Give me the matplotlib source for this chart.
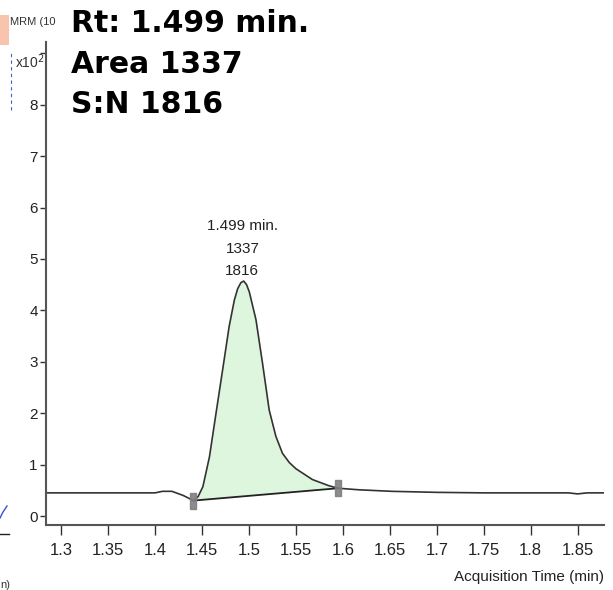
import numpy as np
import matplotlib.pyplot as plt
from matplotlib.patches import Rectangle

# chromatogram trace (counts x10^2 vs acquisition time in min)
t = [1.284, 1.30, 1.35, 1.40, 1.408, 1.418, 1.43, 1.441, 1.446, 1.451, 1.458, 1.465,
     1.472, 1.479, 1.4845, 1.488, 1.4915, 1.4945, 1.4975, 1.5004, 1.5075, 1.5145,
     1.5216, 1.5287, 1.5357, 1.543, 1.55, 1.5675, 1.585, 1.595, 1.617, 1.652,
     1.70, 1.75, 1.80, 1.84, 1.85, 1.86, 1.878]
y = [0.45, 0.45, 0.45, 0.45, 0.48, 0.48, 0.40, 0.30, 0.38, 0.57, 1.15, 2.0,
     2.84, 3.69, 4.2, 4.42, 4.54, 4.57, 4.50, 4.36, 3.82, 2.97,
     2.06, 1.55, 1.22, 1.04, 0.92, 0.71, 0.59, 0.54, 0.51, 0.48,
     0.46, 0.45, 0.45, 0.45, 0.43, 0.45, 0.45]

peak_start = (1.441, 0.30)
peak_end = (1.595, 0.54)
rt = 1.499
area = 1337
sn = 1816

x_ticks = [1.3, 1.35, 1.4, 1.45, 1.5, 1.55, 1.6, 1.65, 1.7, 1.75, 1.8, 1.85]
x_labels = ['1.3', '1.35', '1.4', '1.45', '1.5', '1.55', '1.6', '1.65', '1.7', '1.75', '1.8', '1.85']
y_ticks = [0, 1, 2, 3, 4, 5, 6, 7, 8]

narrow = 'Liberation Sans'

fig = plt.figure(figsize=(6.13, 5.9), dpi=100)
ax = fig.add_axes([46/613, 1-525/590, (604-46)/613, (525-42)/590])

t = np.array(t)
y = np.array(y)

# integrated area between trace and baseline
m = (t >= peak_start[0]) & (t <= peak_end[0])
tx = t[m]
base = np.interp(tx, [peak_start[0], peak_end[0]], [peak_start[1], peak_end[1]])
ax.fill_between(tx, base, y[m], color='#ddf6dd', lw=0)
ax.plot([peak_start[0], peak_end[0]], [peak_start[1], peak_end[1]], color='#222', lw=1.3)
ax.plot(t, y, color='#333', lw=1.2)

# peak start/end markers (tall grey ticks)
bar = [(-0.45, -1), (0.45, -1), (0.45, 1), (-0.45, 1), (-0.45, -1)]
for px, py in (peak_start, peak_end):
    ax.plot(px, py, marker=bar, ms=11, color='#808080', mec='#808080', alpha=0.9)

ax.text(rt - 0.006, 4.62, f'{rt} min.\n{area}\n{sn}', ha='center', va='bottom',
        fontsize=11, family=narrow, linespacing=1.8, color='#222')

ax.set_xlim(1.284, 1.878)
ax.set_ylim(-0.175, 9.22)
ax.set_xticks(x_ticks)
ax.set_xticklabels(x_labels, family=narrow, fontsize=12, color='#222')
ax.set_yticks(y_ticks + [9])
ax.set_yticklabels([str(v) for v in y_ticks] + [''], family=narrow, fontsize=11, color='#222')
ax.tick_params(axis='x', length=7, width=1, color='#333', pad=6)
ax.tick_params(axis='y', length=4, width=1, color='#333', pad=2)
for s in ('top', 'right'):
    ax.spines[s].set_visible(False)
for s in ('left', 'bottom'):
    ax.spines[s].set_color('#555')
    ax.spines[s].set_linewidth(1.5)

fig.text(604/613, 1-577/590, 'Acquisition Time (min)', ha='right', va='center',
         fontsize=11, family=narrow, color='#222')

# overlay summary
for i, s in enumerate([f'Rt: {rt} min.', f'Area {area}', f'S:N {sn}']):
    fig.text(71/613, 1-(32+40.7*i)/590, s, ha='left', va='baseline', fontsize=21.5,
             fontweight='bold', family='DejaVu Sans')

# cropped neighbours at the left edge
fig.patches.append(Rectangle((0, 1-45/590), 9/613, 30/590, transform=fig.transFigure,
                             color='#f8c4ae', lw=0))
fig.text(10/613, 1-22/590, 'MRM (10', fontsize=8, family=narrow, va='center', color='#333')
fig.text(15/613, 1-62/590, r'x10$^2$', fontsize=10, family=narrow, va='center', color='#333')
fig.add_artist(plt.Line2D([11/613, 11/613], [1-110/590, 1-50/590], transform=fig.transFigure,
                          color='#4060d0', lw=0.8, ls=(0, (3, 3))))
fig.add_artist(plt.Line2D([0, 3/613, 7/613], [1-518/590, 1-512/590, 1-506/590],
                          transform=fig.transFigure, color='#3050e0', lw=1))
fig.add_artist(plt.Line2D([0, 9/613], [1-534/590, 1-534/590], transform=fig.transFigure,
                          color='#222', lw=1))
fig.text(0, 1-585/590, 'n)', fontsize=8, family=narrow, va='center', color='#333')

fig.savefig('out.png', dpi=100)
